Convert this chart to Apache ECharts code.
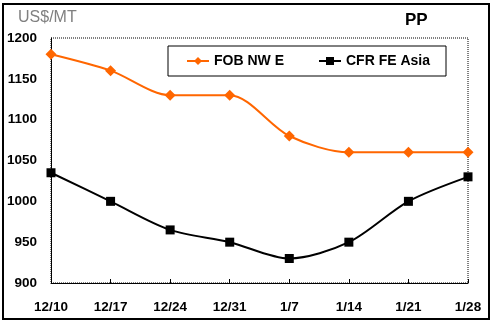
<!DOCTYPE html>
<html>
<head>
<meta charset="utf-8">
<script src="https://cdn.jsdelivr.net/npm/echarts@6/dist/echarts.min.js"></script>
<style>html,body{margin:0;padding:0;background:#fff}#c{width:493px;height:326px}</style>
</head>
<body>
<div id="c"></div>
<script>
var categories = ['12/10','12/17','12/24','12/31','1/7','1/14','1/21','1/28'];
var fobNWE = [1180, 1160, 1130, 1130, 1080, 1060, 1060, 1060];
var cfrFEAsia = [1035, 1000, 965, 950, 930, 950, 1000, 1030];
var seriesNames = ['FOB NW E', 'CFR FE Asia'];

var chart = echarts.init(document.getElementById('c'), null, {renderer: 'canvas'});
var font = 'Liberation Sans, Arial, sans-serif';
chart.setOption({
  animation: false,
  backgroundColor: '#fff',
  textStyle: {fontFamily: font},
  graphic: [
    {type: 'rect', shape: {x: 3, y: 4, width: 486, height: 315}, style: {fill: 'none', stroke: '#000', lineWidth: 2}, z: 100},
    {type: 'text', left: 18, top: 10, style: {text: 'US$/MT', fill: '#808080', font: '16px ' + font}},
    {type: 'text', left: 405, top: 12, style: {text: 'PP', fill: '#000', font: 'bold 17px ' + font}}
  ],
  grid: {left: 51, right: 25, top: 38, bottom: 43, show: true, borderColor: '#000', borderWidth: 1, borderType: 'dotted', backgroundColor: 'transparent'},
  legend: {
    left: 168, top: 46,
    padding: [8, 16, 8, 18],
    itemGap: 34, itemWidth: 22, itemHeight: 10,
    borderColor: '#000', borderWidth: 1,
    textStyle: {fontFamily: font, fontSize: 14, fontWeight: 'bold', color: '#000'},
    data: seriesNames
  },
  xAxis: {
    type: 'category', data: categories, boundaryGap: false,
    axisLine: {lineStyle: {color: '#000', width: 1}},
    axisTick: {inside: true, length: 4, lineStyle: {color: '#000'}},
    axisLabel: {color: '#000', fontSize: 13.5, fontWeight: 'bold', margin: 17, fontFamily: font},
    splitLine: {show: false}
  },
  yAxis: {
    type: 'value', min: 900, max: 1200, interval: 50,
    axisLine: {show: true, lineStyle: {color: '#000', width: 1}},
    axisTick: {show: false},
    axisLabel: {color: '#000', fontSize: 13.5, fontWeight: 'bold', margin: 14, fontFamily: font,
      formatter: function (v) { return String(v); }},
    splitLine: {show: false}
  },
  series: [
    {name: seriesNames[0], type: 'line', data: fobNWE, smooth: 0.3, symbol: 'diamond', symbolSize: 11,
     itemStyle: {color: '#ff6600'}, lineStyle: {color: '#ff6600', width: 2}},
    {name: seriesNames[1], type: 'line', data: cfrFEAsia, smooth: 0.3, symbol: 'rect', symbolSize: 9,
     itemStyle: {color: '#000'}, lineStyle: {color: '#000', width: 2}}
  ]
});
</script>
</body>
</html>
